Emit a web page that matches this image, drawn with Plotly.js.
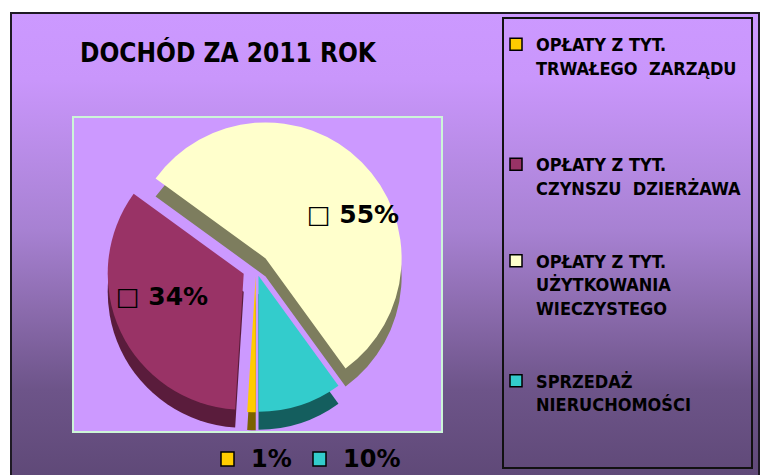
<!DOCTYPE html>
<html>
<head>
<meta charset="utf-8">
<script src="https://cdn.plot.ly/plotly-3.0.1.min.js"></script>
<style>
  html, body { margin: 0; padding: 0; background: #ffffff; }
  #wrap { position: relative; width: 760px; height: 475px; overflow: hidden; background: #ffffff; }
  #bg { position: absolute; left: 10px; top: 12px; width: 746px; height: 470px;
        border: 2px solid #1e1a24;
        background: linear-gradient(to bottom, #cc99ff 0%, #c996fb 14%, #a781d2 46%, #8b6bad 63%, #6d5489 80%, #5e4876 100%); }
  #chart { position: absolute; left: 0; top: 0; width: 760px; height: 475px; }
</style>
</head>
<body>
<div id="wrap"><div id="bg"></div><div id="chart"></div></div>
<script>
// ---- data ----
const title = 'DOCHÓD ZA 2011 ROK';
const categories = [
  'OPŁATY Z TYT.<br>TRWAŁEGO\u00a0 ZARZĄDU',
  'OPŁATY Z TYT.<br>CZYNSZU\u00a0 DZIERŻAWA',
  'OPŁATY Z TYT.<br>UŻYTKOWANIA<br>WIECZYSTEGO',
  'SPRZEDAŻ<br>NIERUCHOMOŚCI'
];
const values = [1, 34, 55, 10];
const topColors = ['#ffcc00', '#993366', '#ffffcc', '#33cccc'];
const sideColors = ['#7a6200', '#5a1c3c', '#7d7d5e', '#145e5e'];

// ---- layout helpers ----
const W = 760, H = 475;
const X = px => px / W;
const Y = py => 1 - py / H;

const padLines = [3, 2, 2, 0];
const labels = categories.map((c, i) => c + '<br>\u00a0'.repeat(padLines[i]));
const total = values.reduce((a, b) => a + b, 0);
const pct = values.map(v => Math.round(v / total * 100));
const pulls = [0.06, 0.1, 0.1, 0.06];

const cx = 256, cy = 268, side = 299.2, depth = 18;
const dom = (dy) => ({
  x: [X(cx - side / 2), X(cx + side / 2)],
  y: [Y(cy + dy + side / 2), Y(cy + dy - side / 2)]
});

const common = {
  type: 'pie', labels: labels, values: values, sort: false,
  direction: 'clockwise', rotation: 180, pull: pulls,
  hoverinfo: 'skip', textinfo: 'none'
};

// legend-only trace (hidden under the top face)
const legendTrace = Object.assign({}, common, {
  domain: {x: [X(380), X(381)], y: [Y(300), Y(299)]},
  marker: {colors: topColors, line: {color: '#000000', width: 1.5}},
  showlegend: true
});
const sideTrace = Object.assign({}, common, {
  domain: dom(depth),
  marker: {colors: sideColors, line: {width: 0}},
  showlegend: false
});
const topTrace = Object.assign({}, common, {
  domain: dom(0),
  marker: {colors: topColors, line: {width: 0}},
  showlegend: false
});

const narrow = '"DejaVu Sans Condensed", "Liberation Sans Narrow", sans-serif';
const lblFont = {family: '"DejaVu Sans", sans-serif', size: 25, color: '#000000', weight: 'bold'};

const shapes = [
  // plot area box
  {type: 'rect', xref: 'paper', yref: 'paper', layer: 'below',
   x0: X(73), x1: X(442), y0: Y(432), y1: Y(117),
   fillcolor: '#cc99ff', line: {color: '#ccf5d8', width: 2}},
  // legend frame
  {type: 'rect', xref: 'paper', yref: 'paper', layer: 'below',
   x0: X(503), x1: X(752), y0: Y(468), y1: Y(18),
   fillcolor: 'rgba(0,0,0,0)', line: {color: '#111111', width: 2}}
];

const annotations = [];
// in-slice labels for the large slices
const insideIdx = [2, 1];
const insidePos = [[353, 214], [162, 296]];
insideIdx.forEach((idx, k) => {
  annotations.push({xref: 'paper', yref: 'paper', x: X(insidePos[k][0]), y: Y(insidePos[k][1]),
    xanchor: 'center', yanchor: 'middle', showarrow: false,
    text: '\u25A1 ' + pct[idx] + '%', font: lblFont});
});
// bottom labels for the small slices
const bottomIdx = [0, 3];
const bottomX = [221, 313];
bottomIdx.forEach((idx, k) => {
  shapes.push({type: 'rect', xref: 'paper', yref: 'paper',
    x0: X(bottomX[k]), x1: X(bottomX[k] + 13), y0: Y(466), y1: Y(452),
    fillcolor: topColors[idx], line: {color: '#000000', width: 1.5}});
  annotations.push({xref: 'paper', yref: 'paper', x: X(bottomX[k] + 28), y: Y(459),
    xanchor: 'left', yanchor: 'middle', showarrow: false, text: pct[idx] + '%',
    font: Object.assign({}, lblFont, {size: 24})});
});

const layout = {
  width: W, height: H,
  margin: {l: 0, r: 0, t: 0, b: 0, autoexpand: false},
  paper_bgcolor: 'rgba(0,0,0,0)', plot_bgcolor: 'rgba(0,0,0,0)',
  title: {text: title, x: X(80), xanchor: 'left', y: Y(53), yanchor: 'middle',
          xref: 'paper', yref: 'paper',
          font: {family: narrow, size: 26, color: '#000000', weight: 'bold'}},
  showlegend: true,
  legend: {x: X(496), xanchor: 'left', y: Y(26), yanchor: 'top',
           valign: 'top', bgcolor: 'rgba(0,0,0,0)', borderwidth: 0,
           font: {family: narrow, size: 18, color: '#000000', weight: 'bold'}},
  shapes: shapes,
  annotations: annotations
};

Plotly.newPlot('chart', [legendTrace, sideTrace, topTrace], layout, {displayModeBar: false, staticPlot: true});
</script>
</body>
</html>
